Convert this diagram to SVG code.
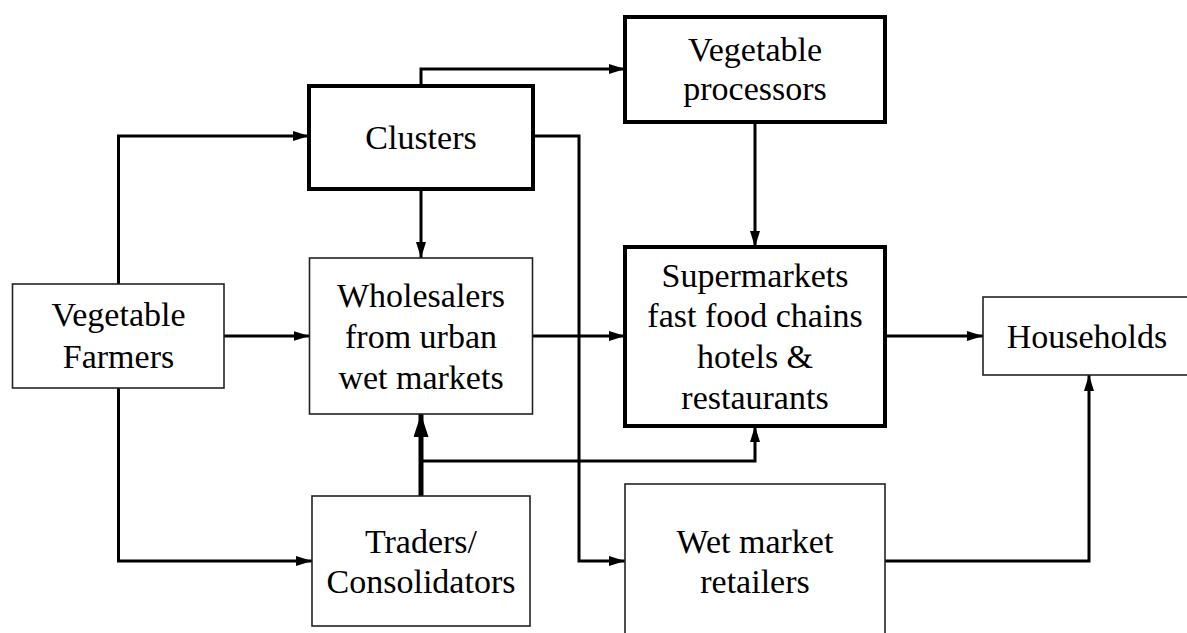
<svg xmlns="http://www.w3.org/2000/svg" width="1187" height="633" viewBox="0 0 1187 633">
<style>
text{font-family:"Liberation Serif","Times New Roman",serif;font-size:34px;fill:#000;text-anchor:middle}
.thin{fill:#fff;stroke:#222;stroke-width:1.6}
.thick{fill:#fff;stroke:#000;stroke-width:4}
.c{fill:none;stroke:#000;stroke-width:3}
.cb{fill:none;stroke:#000;stroke-width:5}
</style>
<defs>
<marker id="ah" viewBox="0 0 16 10" markerWidth="16" markerHeight="10" refX="16" refY="5" markerUnits="userSpaceOnUse" orient="auto"><path d="M0,0 L16,5 L0,10 Z" fill="#000"/></marker>
<marker id="ahb" viewBox="0 0 23 15" markerWidth="23" markerHeight="15" refX="23" refY="7.5" markerUnits="userSpaceOnUse" orient="auto"><path d="M0,0 L23,7.5 L0,15 Z" fill="#000"/></marker>
</defs>
<rect width="1187" height="633" fill="#fff"/>
<g id="connectors">
<path class="c" d="M118.5 284 V136 H309" marker-end="url(#ah)"/>
<path class="c" d="M224 336 H309.5" marker-end="url(#ah)"/>
<path class="c" d="M118.5 388 V561 H312" marker-end="url(#ah)"/>
<path class="c" d="M421 86 V69 H625" marker-end="url(#ah)"/>
<path class="c" d="M421 189 V258" marker-end="url(#ah)"/>
<path class="c" d="M533 136 H579 V561 H625" marker-end="url(#ah)"/>
<path class="c" d="M533 336 H625" marker-end="url(#ah)"/>
<path class="c" d="M755 122 V247" marker-end="url(#ah)"/>
<path class="cb" d="M421 496 V414" marker-end="url(#ahb)"/>
<path class="c" d="M421 461 H755 V426" marker-end="url(#ah)"/>
<path class="c" d="M885 336 H983" marker-end="url(#ah)"/>
<path class="c" d="M885 561 H1089 V375" marker-end="url(#ah)"/>
</g>
<g id="farmers">
<rect class="thin" x="12.5" y="284" width="211.5" height="104"/>
<text x="118.5" y="326">Vegetable</text>
<text x="118.5" y="368">Farmers</text>
</g>
<g id="clusters">
<rect class="thick" x="309" y="86" width="224" height="103"/>
<text x="421" y="149">Clusters</text>
</g>
<g id="processors">
<rect class="thick" x="625" y="17" width="260" height="105"/>
<text x="755" y="61">Vegetable</text>
<text x="755" y="100">processors</text>
</g>
<g id="wholesalers">
<rect class="thin" x="309.5" y="258" width="223" height="156"/>
<text x="421" y="307">Wholesalers</text>
<text x="421" y="348">from urban</text>
<text x="421" y="389">wet markets</text>
</g>
<g id="supermarkets">
<rect class="thick" x="625" y="247" width="260" height="179"/>
<text x="755" y="287">Supermarkets</text>
<text x="755" y="327">fast food chains</text>
<text x="755" y="368">hotels &amp;</text>
<text x="755" y="409">restaurants</text>
</g>
<g id="households">
<rect class="thin" x="983" y="297" width="230" height="78"/>
<text x="1087" y="348">Households</text>
</g>
<g id="traders">
<rect class="thin" x="312" y="496" width="218" height="130"/>
<text x="421" y="553">Traders/</text>
<text x="421" y="593">Consolidators</text>
</g>
<g id="wetretailers">
<rect class="thin" x="625" y="484" width="260" height="170"/>
<text x="755" y="553">Wet market</text>
<text x="755" y="593">retailers</text>
</g>
</svg>
